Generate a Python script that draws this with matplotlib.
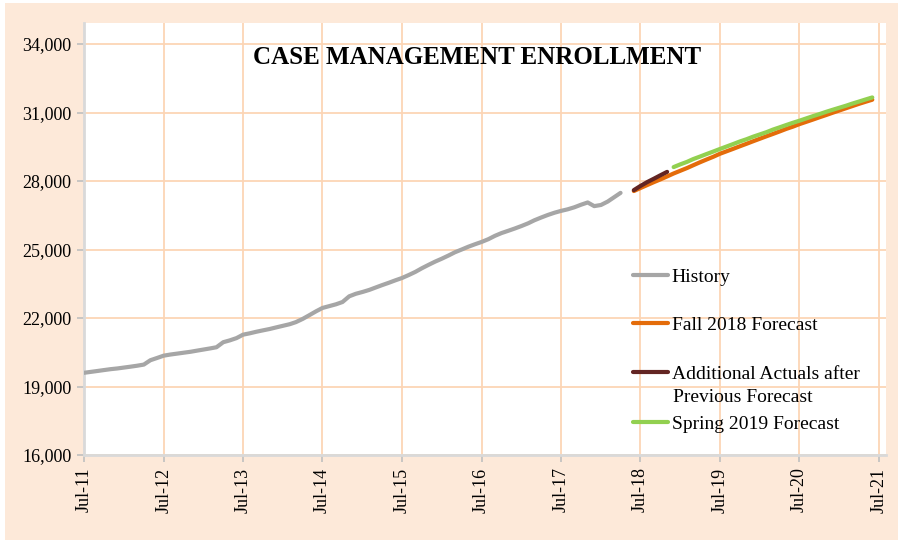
import numpy as np
import matplotlib
matplotlib.use('Agg')
import matplotlib.pyplot as plt
from matplotlib.patches import Rectangle
import pandas as pd

plt.rcParams['font.family'] = ['Liberation Serif', 'DejaVu Serif']

# monthly enrollment
history = [19600, 19640, 19680, 19720, 19760, 19790, 19830, 19870, 19910, 19960, 20150, 20250,
           20350, 20400, 20440, 20480, 20520, 20570, 20620, 20670, 20720, 20940, 21020, 21120,
           21270, 21330, 21400, 21460, 21520, 21590, 21660, 21730, 21820, 21960, 22120, 22290,
           22440, 22520, 22600, 22700, 22950, 23060, 23140, 23230, 23330, 23440, 23540, 23650,
           23750, 23880, 24020, 24180, 24330, 24470, 24600, 24740, 24880, 25000, 25120, 25230,
           25330, 25450, 25600, 25720, 25820, 25920, 26030, 26150, 26280, 26400, 26510, 26610,
           26690, 26760, 26850, 26960, 27060, 26900, 26950, 27100, 27280, 27480]
history_start = '2011-07-01'

actuals = [27600, 27780, 27950, 28100, 28250, 28400]
actuals_start = '2018-06-01'

fall2018 = [27560, 27690, 27820, 27950, 28070, 28200, 28330,
            28450, 28570, 28690, 28820, 28940, 29060, 29190, 29300, 29410, 29520, 29630, 29740,
            29850, 29960, 30060, 30170, 30280, 30380, 30490, 30590, 30690, 30790, 30890, 30990,
            31090, 31190, 31280, 31380, 31470, 31560]
fall2018_start = '2018-06-01'

spring2019 = [28610,
              28730, 28840, 28960, 29070, 29180, 29290, 29400, 29510, 29620, 29730, 29830, 29940,
              30040, 30140, 30250, 30350, 30450, 30550, 30640, 30740, 30840, 30930, 31030, 31120,
              31210, 31300, 31390, 31480, 31570, 31660]
spring2019_start = '2018-12-01'

yticks = [16000, 19000, 22000, 25000, 28000, 31000, 34000]
xtick_years = list(range(2011, 2022))

def months(start, vals):
    return pd.date_range(start, periods=len(vals), freq='MS')

W, H = 898, 540
fig = plt.figure(figsize=(W / 100, H / 100), dpi=100)
fig.patch.set_facecolor('white')
fig.add_artist(Rectangle((5 / W, 0), 1, 1 - 3 / H, transform=fig.transFigure,
                         facecolor='#FDE9D9', edgecolor='none', zorder=-10))

ax = fig.add_axes([84 / W, 1 - 455 / H, (886 - 84) / W, (455 - 23) / H])
ax.set_facecolor('white')

c_hist = '#A6A6A6'
c_fall = '#E46C0A'
c_act = '#632523'
c_spr = '#92D050'
lw = 3.0

ax.plot(months(history_start, history), history, color=c_hist, lw=lw, solid_capstyle='round', zorder=3)
ax.plot(months(fall2018_start, fall2018), fall2018, color=c_fall, lw=lw, solid_capstyle='round', zorder=3)
ax.plot(months(spring2019_start, spring2019), spring2019, color=c_spr, lw=lw, solid_capstyle='round', zorder=4)
ax.plot(months(actuals_start, actuals), actuals, color=c_act, lw=lw, solid_capstyle='round', zorder=5)

ax.set_ylim(16000, 34920)
ax.set_xlim(pd.Timestamp('2011-07-01'), pd.Timestamp('2021-08-03'))
ax.set_yticks(yticks)
ax.set_yticklabels(['{:,}'.format(v) for v in yticks])
xt = [pd.Timestamp(f'{y}-07-01') for y in xtick_years]
ax.set_xticks(xt)
ax.set_xticklabels([f'Jul-{y % 100:02d}' for y in xtick_years], rotation=90)

ax.grid(True, color='#FCD5B5', lw=1.3, zorder=0)
ax.set_axisbelow(True)
for s in ['top', 'right']:
    ax.spines[s].set_visible(False)
for s in ['left', 'bottom']:
    ax.spines[s].set_color('#D9D9D9')
    ax.spines[s].set_linewidth(2)
ax.tick_params(axis='both', colors='#BFBFBF', length=5, width=1.2, labelsize=13, labelcolor='black')
ax.tick_params(axis='y', pad=4)
ax.tick_params(axis='x', pad=4)

fig.text(477 / W, 1 - 57 / H, 'CASE MANAGEMENT ENROLLMENT', ha='center', va='center',
         fontsize=18, fontweight='bold')

# legend, one block per entry so the uneven spacing can match
entries = [(c_hist, 'History', 277), (c_fall, 'Fall 2018 Forecast', 325),
           (c_act, 'Additional Actuals after', 374), (c_spr, 'Spring 2019 Forecast', 424)]
for col, lab, yy in entries:
    h, = ax.plot([], [], color=col, lw=lw, solid_capstyle='round')
    leg = fig.legend([h], [lab], loc='center left', bbox_to_anchor=(633 / W, 1 - yy / H),
                     bbox_transform=fig.transFigure, frameon=False, fontsize=14,
                     handlelength=1.8, handletextpad=0.2, borderpad=0, borderaxespad=0)
fig.text(673 / W, 1 - 397 / H, 'Previous Forecast', ha='left', va='center', fontsize=14)

fig.savefig('out.png', dpi=100)
